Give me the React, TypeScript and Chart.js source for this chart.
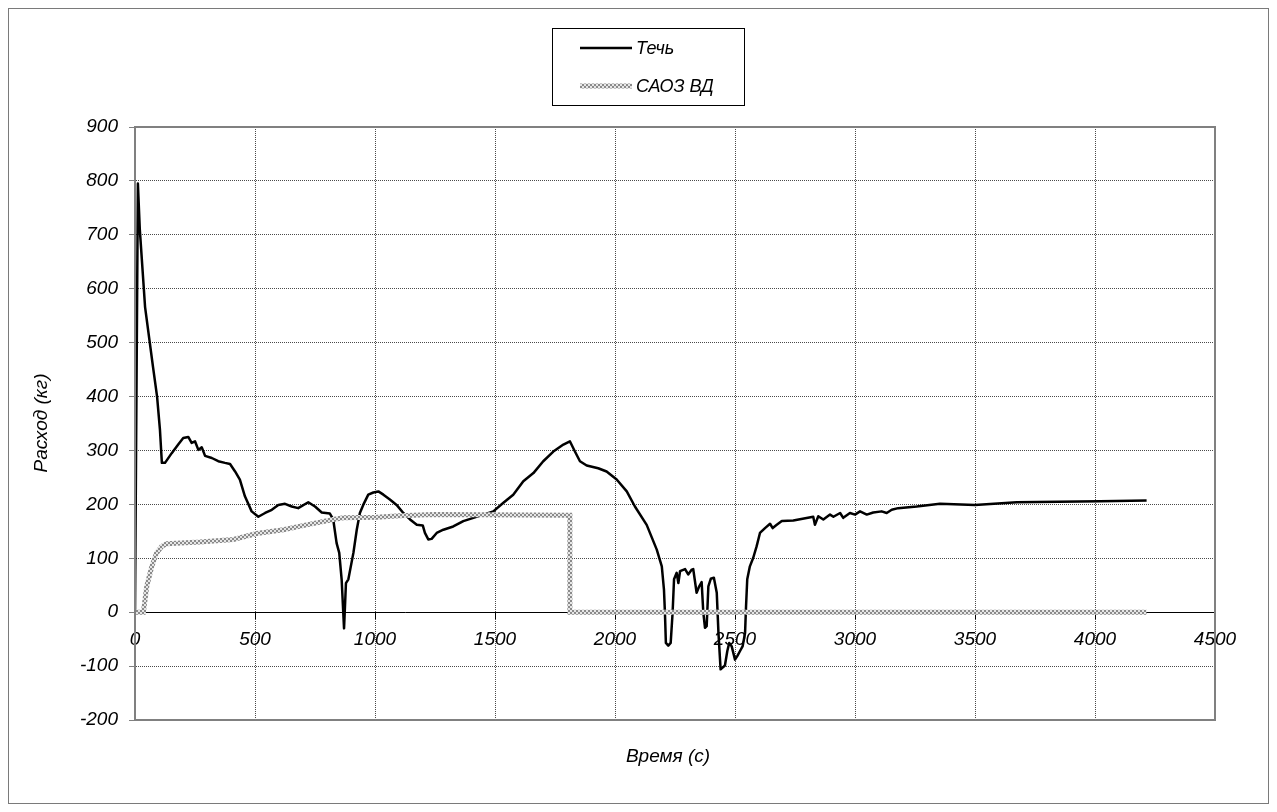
import React, { useEffect, useRef } from "react";
import { Chart, registerables } from "chart.js";

Chart.register(...registerables);

// Течь (leak) flow
const leakTime = [0, 12, 20, 42, 75, 92, 104, 112, 125, 153, 180, 201, 222, 236, 250, 264, 278, 292, 320, 347, 375, 396, 417, 437, 458, 486, 514, 542, 570, 597, 625, 653, 680, 722, 750, 778, 812, 826, 840, 851, 861, 871, 879, 889, 910, 924, 937, 951, 972, 993, 1014, 1035, 1062, 1090, 1118, 1146, 1174, 1199, 1208, 1222, 1236, 1257, 1285, 1326, 1368, 1410, 1451, 1493, 1535, 1576, 1618, 1660, 1701, 1743, 1785, 1812, 1833, 1854, 1882, 1930, 1965, 2007, 2049, 2083, 2132, 2174, 2195, 2204, 2208, 2212, 2222, 2232, 2240, 2246, 2257, 2264, 2271, 2292, 2305, 2320, 2326, 2340, 2351, 2361, 2368, 2375, 2382, 2389, 2399, 2412, 2424, 2431, 2440, 2458, 2468, 2476, 2486, 2500, 2510, 2521, 2532, 2542, 2546, 2551, 2562, 2576, 2590, 2604, 2625, 2646, 2657, 2674, 2695, 2743, 2826, 2833, 2847, 2868, 2896, 2910, 2938, 2951, 2979, 3000, 3021, 3049, 3076, 3111, 3132, 3153, 3180, 3257, 3354, 3500, 3674, 4021, 4215];
const leakFlow = [0, 795, 710, 566, 455, 400, 338, 277, 277, 295, 311, 323, 325, 314, 317, 301, 306, 290, 286, 280, 277, 275, 261, 246, 215, 187, 177, 184, 190, 199, 201, 196, 193, 204, 196, 185, 183, 172, 128, 110, 61, -30, 54, 61, 110, 153, 184, 199, 218, 222, 224, 218, 209, 199, 184, 172, 162, 161, 147, 135, 136, 147, 153, 159, 169, 175, 181, 187, 203, 218, 243, 258, 280, 298, 311, 317, 298, 280, 272, 267, 261, 246, 224, 196, 162, 116, 85, 42, 0, -57, -62, -57, -1, 61, 73, 54, 76, 80, 70, 79, 80, 36, 48, 56, -1, -29, -26, 48, 62, 64, 36, -38, -106, -99, -72, -57, -63, -88, -81, -72, -63, -38, 11, 61, 85, 101, 122, 147, 156, 164, 156, 162, 169, 170, 177, 162, 178, 172, 181, 177, 184, 175, 184, 181, 187, 181, 185, 187, 184, 190, 193, 196, 201, 199, 204, 206, 207];

// САОЗ ВД flow
const eccsTime = [0, 35, 49, 70, 90, 111, 132, 271, 410, 507, 618, 715, 826, 868, 1007, 1104, 1243, 1812, 1812, 4215];
const eccsFlow = [0, 0, 48, 85, 110, 122, 127, 130, 135, 146, 153, 162, 172, 175, 176, 179, 181, 180, 0, 0];

const seriesLabels = ["Течь", "САОЗ ВД"];
const xTitle = "Время (с)";
const yTitle = "Расход (кг)";

const FONT = "'Liberation Sans', Arial, sans-serif";

function makePattern(): CanvasPattern | string {
  const c = document.createElement("canvas");
  c.width = 4;
  c.height = 4;
  const g = c.getContext("2d");
  if (!g) return "#999";
  g.fillStyle = "#8a8a8a";
  g.fillRect(0, 0, 4, 4);
  g.fillStyle = "#e6e6e6";
  g.fillRect(0, 0, 2, 2);
  g.fillRect(2, 2, 2, 2);
  const p = g.createPattern(c, "repeat");
  return p || "#999";
}

export default function App() {
  const ref = useRef<HTMLCanvasElement | null>(null);

  useEffect(() => {
    if (!ref.current) return;
    const pattern = makePattern();

    const decor = {
      id: "decor",
      afterDraw(chart: any) {
        const ctx = chart.ctx;
        const a = chart.chartArea;
        ctx.save();
        // plot frame
        ctx.strokeStyle = "#808080";
        ctx.lineWidth = 2;
        ctx.strokeRect(a.left, a.top, a.right - a.left, a.bottom - a.top);
        // outer frame
        ctx.lineWidth = 1;
        ctx.strokeStyle = "#7a7a7a";
        ctx.strokeRect(0.5, 0.5, chart.width - 1, chart.height - 1);
        // axis titles
        ctx.fillStyle = "#000";
        ctx.font = `italic 19px ${FONT}`;
        ctx.textAlign = "center";
        ctx.textBaseline = "middle";
        ctx.fillText(xTitle, 660, 749);
        ctx.save();
        ctx.translate(34, 415);
        ctx.rotate(-Math.PI / 2);
        ctx.fillText(yTitle, 0, 0);
        ctx.restore();
        // legend
        ctx.strokeStyle = "#000";
        ctx.lineWidth = 1;
        ctx.strokeRect(544.5, 20.5, 192, 77);
        const ds = chart.data.datasets;
        const rows = [
          { y: 40, d: ds[1] },
          { y: 78, d: ds[0] },
        ];
        ctx.textAlign = "left";
        ctx.font = `italic 18px ${FONT}`;
        rows.forEach((r) => {
          ctx.beginPath();
          ctx.strokeStyle = r.d.borderColor;
          ctx.lineWidth = r.d.borderWidth;
          ctx.moveTo(572, r.y);
          ctx.lineTo(624, r.y);
          ctx.stroke();
          ctx.fillStyle = "#000";
          ctx.fillText(r.d.label, 628, r.y + 1);
        });
        ctx.restore();
      },
    };

    const chart = new Chart(ref.current, {
      type: "line",
      data: {
        datasets: [
          {
            label: seriesLabels[1],
            data: eccsTime.map((t, i) => ({ x: t, y: eccsFlow[i] })),
            borderColor: pattern as any,
            borderWidth: 5,
            pointRadius: 0,
            tension: 0,
            order: 0,
          },
          {
            label: seriesLabels[0],
            data: leakTime.map((t, i) => ({ x: t, y: leakFlow[i] })),
            borderColor: "#000",
            borderWidth: 2.5,
            pointRadius: 0,
            tension: 0,
            borderJoinStyle: "round",
            order: 1,
          },
        ],
      },
      options: {
        responsive: false,
        animation: false,
        layout: { padding: { left: 0, top: 119, right: 54, bottom: 84 } },
        plugins: { legend: { display: false }, tooltip: { enabled: false } },
        scales: {
          x: {
            type: "linear",
            position: { y: 0 } as any,
            min: 0,
            max: 4500,
            ticks: {
              stepSize: 500,
              padding: 10,
              color: "#000",
              font: { family: FONT, size: 19, style: "italic" },
              callback: (v: any) => String(v),
              maxRotation: 0,
            },
            grid: {
              color: "#4a4a4a",
              lineWidth: 1,
              tickLength: 6,
              tickColor: "#000",
            },
            border: { color: "#000", width: 1, dash: [1, 1] },
            afterFit: (s: any) => {
              s.paddingLeft = 0;
              s.paddingRight = 0;
            },
          },
          y: {
            type: "linear",
            min: -200,
            max: 900,
            ticks: {
              stepSize: 100,
              padding: 11,
              color: "#000",
              font: { family: FONT, size: 19, style: "italic" },
              callback: (v: any) => String(v),
            },
            grid: {
              color: (c: any) => (c.tick && c.tick.value === 0 ? "#000" : "#4a4a4a"),
              lineWidth: 1,
              tickLength: 6,
              tickColor: "#808080",
            },
            border: { color: "#808080", width: 2, dash: [1, 1] },
            afterFit: (s: any) => {
              s.width = 127;
              s.paddingTop = 0;
              s.paddingBottom = 0;
            },
          },
        },
      },
      plugins: [decor],
    });
    return () => chart.destroy();
  }, []);

  return <canvas ref={ref} width={1261} height={796} style={{ display: "block" }} />;
}
